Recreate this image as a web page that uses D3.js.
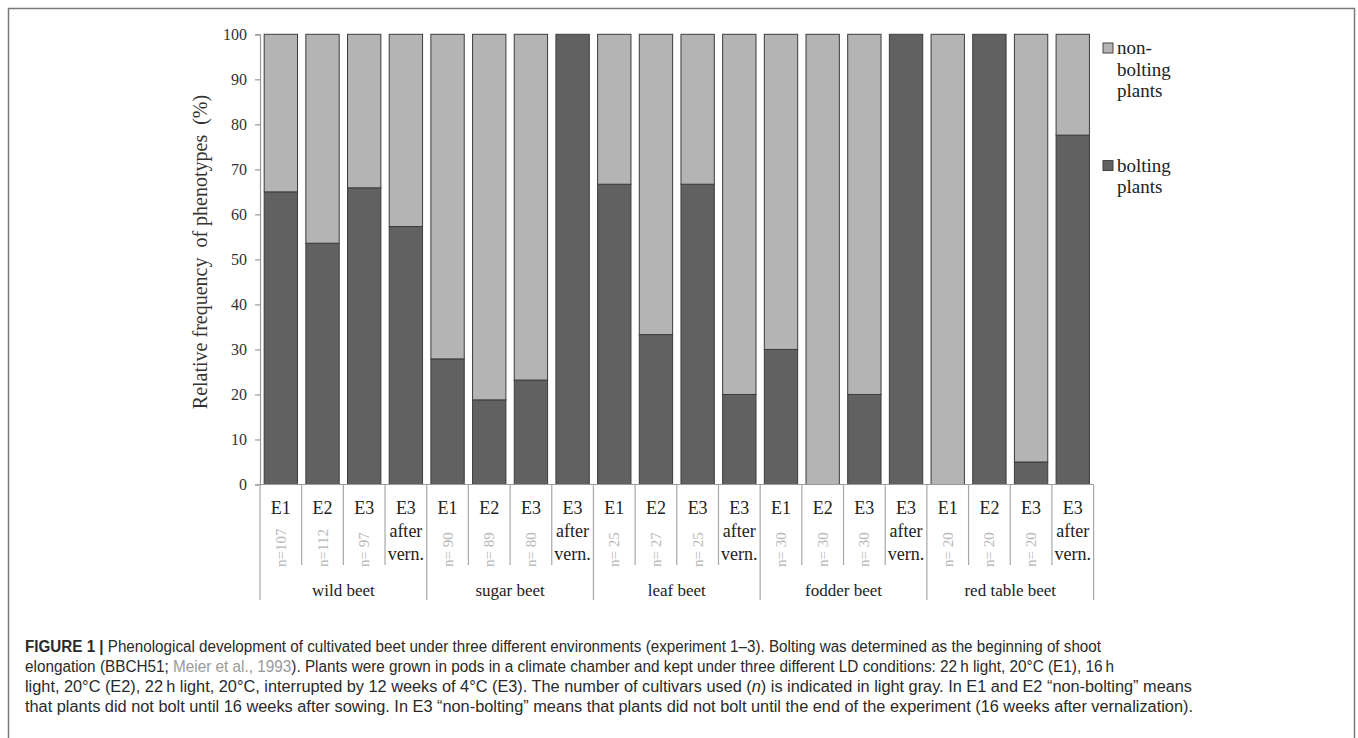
<!DOCTYPE html>
<html>
<head>
<meta charset="utf-8">
<script src="https://cdn.jsdelivr.net/npm/d3@7"></script>
<style>
  html, body { margin: 0; padding: 0; background: #fff; }
  svg { display: block; }
  text { white-space: pre; }
</style>
</head>
<body>
<svg id="chart" width="1358" height="738"></svg>
<script>
// ---- data ----
const groups = ["wild beet", "sugar beet", "leaf beet", "fodder beet", "red table beet"];
const conditions = ["E1", "E2", "E3", "E3 after vern."];
const bolting    = [65, 53.6, 65.9, 57.3,  27.9, 18.8, 23.2, 100,  66.7, 33.3, 66.7, 20,  30, 0, 20, 100,  0, 100, 5, 77.6];
const nonBolting = [35, 46.4, 34.1, 42.7,  72.1, 81.2, 76.8, 0,    33.3, 66.7, 33.3, 80,  70, 100, 80, 0,  100, 0, 95, 22.4];
const nLabels = ["n=107", "n=112", "n= 97", "",  "n= 90", "n= 89", "n= 80", "",
                 "n= 25", "n= 27", "n= 25", "",  "n= 30", "n= 30", "n= 30", "",
                 "n= 20", "n= 20", "n= 20", ""];
const yTicks = [0, 10, 20, 30, 40, 50, 60, 70, 80, 90, 100];
const seriesNames = ["bolting plants", "non-bolting plants"];
const legendOrder = ["non-bolting plants", "bolting plants"];
const yTitle = "Relative frequency  of phenotypes  (%)";

// ---- build rows ----
const rows = [];
groups.forEach((g, gi) => conditions.forEach((c, ci) => {
  const i = gi * conditions.length + ci;
  rows.push({ key: g + "|" + c, group: g, cond: c, n: nLabels[i],
              "bolting plants": bolting[i], "non-bolting plants": nonBolting[i] });
}));

const svg = d3.select("#chart");
const serif = "'Liberation Serif', 'Times New Roman', serif";
const sans = "'Liberation Sans', Arial, Helvetica, sans-serif";

// frame
svg.append("path")
  .attr("d", "M8.5,760 V8.5 H1354.5 V760")
  .attr("fill", "none").attr("stroke", "#7a7a7a").attr("stroke-width", 1.5);

// scales
const x = d3.scaleBand().domain(rows.map(d => d.key)).range([260, 1093.6])
  .paddingInner(0.2).paddingOuter(0.1);
const y = d3.scaleLinear().domain([0, 100]).range([484.5, 34.3]);
const color = d3.scaleOrdinal().domain(seriesNames).range(["#616161", "#b4b4b4"]);

// stacked bars
const stack = d3.stack().keys(seriesNames)(rows);
const gBars = svg.append("g");
stack.forEach(s => {
  gBars.selectAll(null).data(s.filter(d => d[1] - d[0] > 0)).enter().append("rect")
    .attr("x", d => x(d.data.key))
    .attr("width", x.bandwidth())
    .attr("y", d => y(d[1]))
    .attr("height", d => y(d[0]) - y(d[1]))
    .attr("fill", color(s.key))
    .attr("stroke", "#3c3c3c")
    .attr("stroke-width", 1);
});

// y axis
const yAxis = d3.axisLeft(y).tickValues(yTicks).tickSize(5).tickPadding(8);
const gy = svg.append("g").attr("transform", "translate(260,0)").call(yAxis);
gy.select(".domain").attr("stroke", "#9a9a9a").attr("stroke-width", 1.2);
gy.selectAll(".tick line").attr("stroke", "#9a9a9a").attr("stroke-width", 1.2);
gy.selectAll(".tick text").attr("font-family", serif).attr("font-size", 16).attr("fill", "#333");

// y title
svg.append("text")
  .attr("transform", "translate(207,252) rotate(-90)")
  .attr("text-anchor", "middle")
  .attr("font-family", serif).attr("font-size", 20).attr("fill", "#333")
  .text(yTitle);

// x axis baseline
const step = x.step();
const half = step * x.paddingInner() / 2;
const x0 = x(rows[0].key) - half;
const x1 = x(rows[rows.length - 1].key) + x.bandwidth() + half;
svg.append("line").attr("x1", x0).attr("x2", x1).attr("y1", y(0)).attr("y2", y(0))
  .attr("stroke", "#9a9a9a").attr("stroke-width", 1.2);

// separators
const gSep = svg.append("g").attr("stroke", "#a8a8a8").attr("stroke-width", 1.2);
rows.forEach((d, i) => {
  const xs = x(d.key) - half;
  const tall = i % conditions.length === 0;
  gSep.append("line").attr("x1", xs).attr("x2", xs).attr("y1", y(0))
    .attr("y2", tall ? 600 : 565);
});
gSep.append("line").attr("x1", x1).attr("x2", x1).attr("y1", y(0)).attr("y2", 600);

// condition labels
const gLab = svg.append("g").attr("font-family", serif).attr("fill", "#222");
rows.forEach(d => {
  const cx = x(d.key) + x.bandwidth() / 2;
  const parts = d.cond === "E3 after vern." ? ["E3", "after", "vern."] : [d.cond];
  parts.forEach((p, j) => {
    gLab.append("text").attr("x", cx).attr("y", 514 + j * 23)
      .attr("text-anchor", "middle").attr("font-size", 18).text(p);
  });
  if (d.n) {
    gLab.append("text")
      .attr("transform", `translate(${cx + 5},567) rotate(-90)`)
      .attr("text-anchor", "start").attr("font-size", 15).attr("fill", "#b8b8b8")
      .text(d.n);
  }
});

// group labels
groups.forEach((g, gi) => {
  const first = x(g + "|" + conditions[0]) - half;
  const last = x(g + "|" + conditions[conditions.length - 1]) + x.bandwidth() + half;
  svg.append("text").attr("x", (first + last) / 2).attr("y", 596)
    .attr("text-anchor", "middle").attr("font-family", serif).attr("font-size", 17)
    .attr("fill", "#222").text(g);
});

// legend
const legendPos = { "non-bolting plants": 43, "bolting plants": 160.5 };
legendOrder.forEach(name => {
  const top = legendPos[name];
  svg.append("rect").attr("x", 1103).attr("y", top).attr("width", 10).attr("height", 10)
    .attr("fill", color(name)).attr("stroke", "#444").attr("stroke-width", 1);
  const words = name === "non-bolting plants" ? ["non-", "bolting", "plants"] : ["bolting", "plants"];
  words.forEach((w, j) => {
    svg.append("text").attr("x", 1117).attr("y", top + 11 + j * 21.5)
      .attr("font-family", serif).attr("font-size", 19).attr("fill", "#222").text(w);
  });
});

// caption
const caption = [
  { w: 1076, parts: [{ t: "FIGURE 1 |", b: true }, { t: " Phenological development of cultivated beet under three different environments (experiment 1–3). Bolting was determined as the beginning of shoot" }] },
  { w: 1089, parts: [{ t: "elongation (BBCH51; " }, { t: "Meier et al., 1993", c: "#9a9a9a" }, { t: "). Plants were grown in pods in a climate chamber and kept under three different LD conditions: 22\u2009h light, 20°C (E1), 16\u2009h" }] },
  { w: 1167, parts: [{ t: "light, 20°C (E2), 22\u2009h light, 20°C, interrupted by 12 weeks of 4°C (E3). The number of cultivars used (" }, { t: "n", i: true }, { t: ") is indicated in light gray. In E1 and E2 \u201cnon-bolting\u201d means" }] },
  { w: 1168, parts: [{ t: "that plants did not bolt until 16 weeks after sowing. In E3 \u201cnon-bolting\u201d means that plants did not bolt until the end of the experiment (16 weeks after vernalization)." }] }
];
caption.forEach((line, li) => {
  const t = svg.append("text").attr("x", 25).attr("y", 652 + li * 20)
    .attr("font-family", sans).attr("font-size", 16).attr("fill", "#2a2a2a")
    .attr("textLength", line.w).attr("lengthAdjust", "spacingAndGlyphs");
  line.parts.forEach(p => {
    const ts = t.append("tspan").text(p.t);
    if (p.b) ts.attr("font-weight", "bold");
    if (p.i) ts.attr("font-style", "italic");
    if (p.c) ts.attr("fill", p.c);
  });
});
</script>
</body>
</html>
